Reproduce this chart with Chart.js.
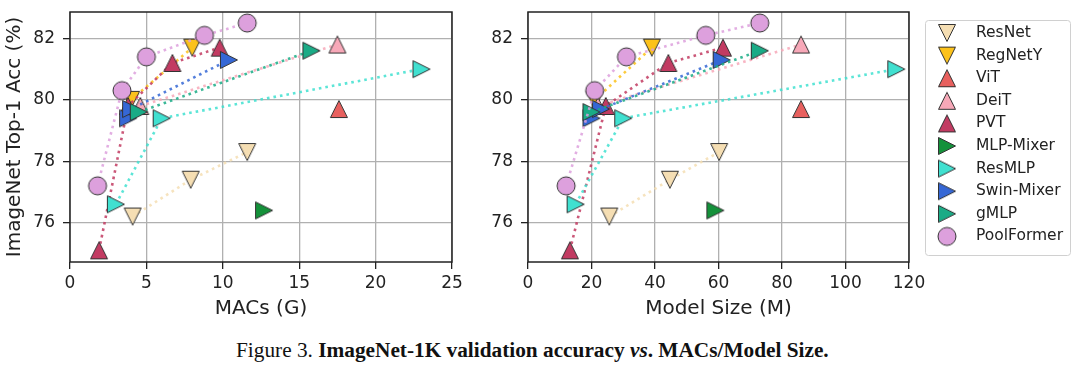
<!DOCTYPE html>
<html>
<head>
<meta charset="utf-8">
<script src="https://cdn.jsdelivr.net/npm/chart.js@4/dist/chart.umd.min.js"></script>
<style>
  body { margin: 0; background: #fff; width: 1080px; height: 368px; overflow: hidden; position: relative; }
  canvas { position: absolute; top: 0; }
  #c1 { left: 0; }
  #c2 { left: 470px; }
  #caption { position: absolute; left: 236px; top: 338px; font-family: "Liberation Serif", serif; font-size: 21.3px; color: #111; white-space: nowrap; }
</style>
</head>
<body>
<canvas id="c1" width="470" height="330"></canvas>
<canvas id="c2" width="610" height="330"></canvas>
<div id="caption">Figure 3. <b>ImageNet-1K validation accuracy <i>vs</i>. MACs/Model Size.</b></div>
<script>
// data
const series = ['ResNet', 'RegNetY', 'ViT', 'DeiT', 'PVT', 'MLP-Mixer', 'ResMLP', 'Swin-Mixer', 'gMLP', 'PoolFormer'];
const macs = [[4.1, 7.9, 11.6], [4.0, 8.0], [17.6], [4.6, 17.5], [1.9, 3.8, 6.7, 9.8], [12.7], [3.0, 6.0, 23.0], [3.8, 4.0, 10.4], [4.5, 15.8], [1.8, 3.4, 5.0, 8.8, 11.6]];
const params = [[25.6, 44.7, 60.2], [21, 39], [86], [22, 86], [13.2, 24.5, 44.2, 61.4], [59], [15, 30, 116], [20, 23, 61], [20, 73], [12, 21, 31, 56, 73]];
const acc = [[76.2, 77.4, 78.3], [80.0, 81.7], [79.7], [79.8, 81.8], [75.1, 79.8, 81.2, 81.7], [76.4], [76.6, 79.4, 81.0], [79.4, 79.7, 81.3], [79.6, 81.6], [77.2, 80.3, 81.4, 82.1, 82.5]];
const macsTicks = [0, 5, 10, 15, 20, 25];
const sizeTicks = [0, 20, 40, 60, 80, 100, 120];
const accTicks = [76, 78, 80, 82];

const colors = ['#F5DEB3', '#FCC21B', '#E8605E', '#F7A8B8', '#C23B62', '#14913A', '#40E0D0', '#3567D5', '#1AAB86', '#DDA0DD'];
const shapes = ['v', 'v', '^', '^', '^', '>', '>', '>', '>', 'o'];

function hexA(hex, a) {
    let n = parseInt(hex.slice(1), 16);
    return `rgba(${n >> 16},${(n >> 8) & 255},${n & 255},${a})`;
}

// matplotlib-like markers as little canvases
function marker(shape, color) {
    let s = 22, c = document.createElement('canvas');
    c.width = s; c.height = s;
    let g = c.getContext('2d'), m = s / 2, h = 8.5;
    g.beginPath();
    if (shape == 'o') g.arc(m, m, 9, 0, Math.PI * 2);
    else if (shape == 'v') { g.moveTo(m - h, m - h); g.lineTo(m + h, m - h); g.lineTo(m, m + h); }
    else if (shape == '^') { g.moveTo(m - h, m + h); g.lineTo(m + h, m + h); g.lineTo(m, m - h); }
    else { g.moveTo(m - h, m - h); g.lineTo(m + h, m); g.lineTo(m - h, m + h); }
    g.closePath();
    g.fillStyle = color;
    g.fill();
    g.lineWidth = 1;
    g.strokeStyle = '#333';
    g.stroke();
    return c;
}
const markers = series.map((s, i) => marker(shapes[i], colors[i]));

function makeDatasets(xs) {
    return series.map((name, i) => ({
        label: name,
        data: xs[i].map((x, j) => ({x: x, y: acc[i][j]})),
        showLine: true,
        borderColor: hexA(colors[i], 0.85),
        borderWidth: 2.6,
        borderDash: [2.6, 4],
        pointStyle: markers[i],
        backgroundColor: colors[i],
        order: 10 - i,
        clip: false
    }));
}

const frame = {
    id: 'frame',
    beforeDatasetsDraw(chart) {
        let a = chart.chartArea, g = chart.ctx;
        g.save();
        g.strokeStyle = '#222';
        g.lineWidth = 1.5;
        g.strokeRect(a.left, a.top, a.right - a.left, a.bottom - a.top);
        g.restore();
    }
};

const legendBox = {
    id: 'legendBox',
    afterDraw(chart) {
        let g = chart.ctx, x0 = 455, y0 = 20, w = 145, h = 235;
        g.save();
        g.fillStyle = 'rgba(255,255,255,0.9)';
        g.strokeStyle = '#d0d0d0';
        g.lineWidth = 1;
        g.beginPath();
        g.roundRect(x0 + 0.5, y0 + 0.5, w, h, 3);
        g.fill();
        g.stroke();
        g.font = '15.5px "DejaVu Sans"';
        g.fillStyle = '#222';
        g.textBaseline = 'middle';
        series.forEach((name, i) => {
            let y = 33 + i * 22.6;
            g.drawImage(markers[i], 477 - 11, y - 11);
            g.fillText(name, 506, y);
        });
        g.restore();
    }
};

function makeOptions(ticks, xMax, xTitle, yWidth, padRight, yTitle) {
    return {
        responsive: false,
        animation: false,
        layout: {padding: {left: 0, top: 12, right: padRight, bottom: 0}},
        plugins: {legend: {display: false}, tooltip: {enabled: false}},
        scales: {
            x: {
                type: 'linear', min: 0, max: xMax,
                afterBuildTicks: (s) => { s.ticks = ticks.map(v => ({value: v})); },
                afterFit: (s) => { s.height = 68; s.paddingLeft = 0; s.paddingRight = 0; },
                grid: {color: '#b0b0b0', lineWidth: 1.3, tickColor: '#222', tickLength: 7},
                border: {display: false},
                ticks: {color: '#222', font: {family: 'DejaVu Sans', size: 17}, padding: 4, maxRotation: 0},
                title: {display: true, text: xTitle, color: '#222', font: {family: 'DejaVu Sans', size: 20}, padding: {top: 4, bottom: 9}}
            },
            y: {
                type: 'linear', min: 74.72, max: 82.86,
                afterBuildTicks: (s) => { s.ticks = accTicks.map(v => ({value: v})); },
                afterFit: (s) => { s.width = yWidth; s.paddingTop = 0; s.paddingBottom = 0; },
                grid: {color: '#b0b0b0', lineWidth: 1.3, tickColor: '#222', tickLength: 7},
                border: {display: false},
                ticks: {color: '#222', font: {family: 'DejaVu Sans', size: 17}, padding: 8},
                title: {display: yTitle, text: 'ImageNet Top-1 Acc (%)', color: '#222', font: {family: 'DejaVu Sans', size: 20}, padding: {top: 3}}
            }
        }
    };
}

let chart1 = new Chart(document.getElementById('c1').getContext('2d'), {
    type: 'scatter',
    data: {datasets: makeDatasets(macs)},
    options: makeOptions(macsTicks, 25, 'MACs (G)', 70, 18, true),
    plugins: [frame]
});

let chart2 = new Chart(document.getElementById('c2').getContext('2d'), {
    type: 'scatter',
    data: {datasets: makeDatasets(params)},
    options: makeOptions(sizeTicks, 120, 'Model Size (M)', 58, 171, false),
    plugins: [frame, legendBox]
});
</script>
</body>
</html>
